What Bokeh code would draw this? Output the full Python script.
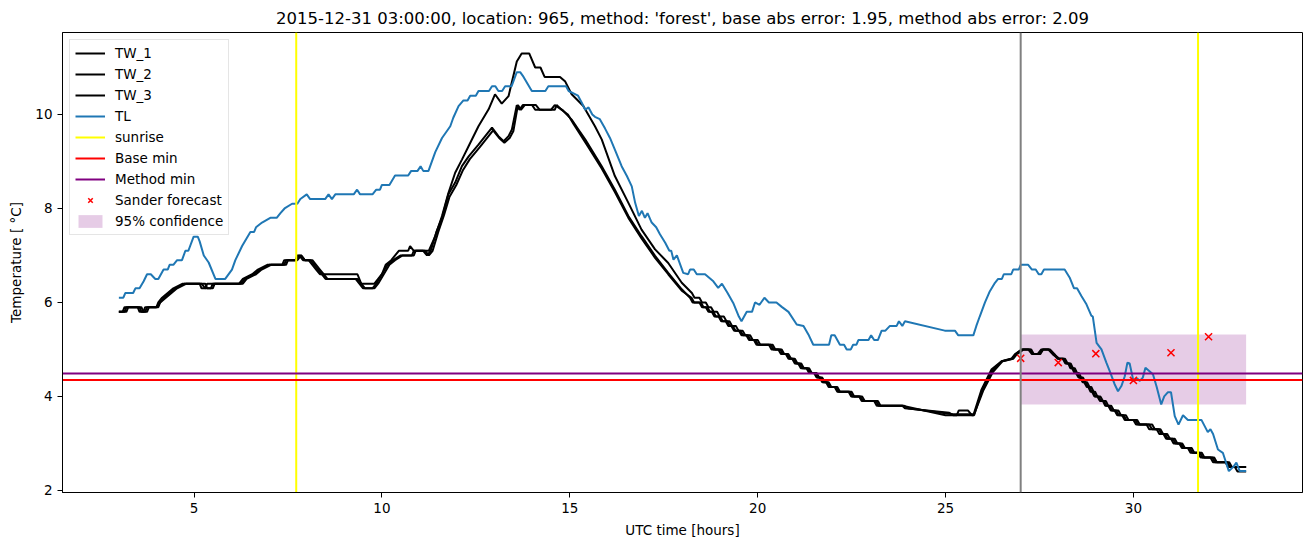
from bokeh.plotting import figure
from bokeh.models import Range1d, Span, Legend, LegendItem, FixedTicker
from bokeh.embed import file_html
from bokeh.resources import INLINE

TITLE = "2015-12-31 03:00:00, location: 965, method: 'forest', base abs error: 1.95, method abs error: 2.09"

tw1 = [(3.0,5.8),(3.15,5.8),(3.2,5.9),(3.5,5.9),(3.55,5.8),(3.65,5.8),(3.7,5.9),(4.0,5.9),(4.05,6.0),(4.15,6.1),(4.3,6.2),(4.45,6.3),(4.7,6.4),(5.15,6.4),(5.2,6.3),(5.3,6.3),(5.35,6.4),(6.2,6.4),(6.3,6.5),(6.55,6.6),(6.7,6.7),(6.95,6.8),(7.35,6.8),(7.4,6.9),(7.7,6.9),(7.8,7.0),(7.9,6.9),(8.05,6.9),(8.15,6.8),(8.25,6.7),(8.35,6.6),(9.35,6.6),(9.45,6.4),(9.8,6.4),(9.9,6.5),(10.0,6.6),(10.1,6.8),(10.25,6.9),(10.45,7.1),(10.7,7.1),(10.75,7.2),(10.85,7.1),(11.25,7.1),(11.42,7.41),(11.6,7.84),(11.77,8.33),(11.95,8.76),(12.13,9.04),(12.31,9.33),(12.57,9.75),(12.84,10.11),(13.01,10.43),(13.19,10.23),(13.37,10.39),(13.59,11.13),(13.72,11.3),(13.92,11.3),(14.08,11.0),(14.22,11.0),(14.33,10.8),(14.74,10.8),(14.88,10.7),(15.05,10.43),(15.19,10.32),(15.36,10.18),(15.67,9.75),(15.85,9.47),(16.2,8.69),(16.56,8.12),(16.91,7.55),(17.27,7.13),(17.62,6.84),(17.98,6.42),
       (18.25,6.2),(18.32,6.1),(18.45,6.1),(18.52,6.0),(18.62,6.0),(18.69,5.9),(18.76,5.9),(18.83,5.8),(18.92,5.8),(18.99,5.7),(19.1,5.7),(19.17,5.6),(19.25,5.6),(19.32,5.5),(19.42,5.5),(19.49,5.4),(19.6,5.4),(19.67,5.3),(19.8,5.3),(19.87,5.2),(20.0,5.2),(20.07,5.1),(20.35,5.1),(20.42,5.0),(20.55,5.0),(20.62,4.9),(20.75,4.9),(20.82,4.8),(20.92,4.8),(20.99,4.7),(21.08,4.7),(21.15,4.6),(21.3,4.6),(21.37,4.5),(21.5,4.5),(21.57,4.4),(21.65,4.4),(21.72,4.3),(21.82,4.3),(21.89,4.2),(22.05,4.2),(22.12,4.1),(22.42,4.1),(22.49,4.0),(22.7,4.0),(22.77,3.9),(23.1,3.9),(23.17,3.8),(23.85,3.8),
       (23.92,3.75),(25.1,3.65),(25.2,3.6),(25.74,3.6),(25.96,4.15),(26.22,4.57),(26.49,4.75),(26.76,4.81),(26.84,4.89),(27.02,5.0),(27.2,5.0),(27.3,4.9),(27.45,4.9),(27.55,5.0),(27.73,5.0),(27.85,4.9),
       (28.0,4.8),(28.15,4.8),(28.22,4.7),(28.3,4.7),(28.35,4.6),(28.4,4.6),(28.46,4.5),(28.5,4.5),(28.57,4.4),(28.61,4.4),(28.68,4.3),(28.72,4.3),(28.79,4.2),(28.83,4.2),(28.89,4.1),(28.93,4.1),(28.99,4.0),(29.07,4.0),(29.14,3.9),(29.22,3.9),(29.28,3.8),(29.36,3.8),(29.43,3.7),(29.54,3.7),(29.61,3.6),(29.74,3.6),(29.81,3.5),(30.05,3.5),(30.12,3.4),(30.42,3.4),(30.5,3.3),(30.68,3.3),(30.75,3.2),(30.84,3.2),(30.91,3.1),(31.05,3.1),(31.12,3.0),(31.26,3.0),(31.33,2.9),(31.5,2.9),(31.57,2.8),(31.77,2.8),(31.84,2.7),(32.1,2.7),(32.17,2.6),(32.5,2.6),(32.57,2.5),(33.0,2.5)]

tw2 = [(3.0,5.8),(3.1,5.8),(3.15,5.9),(3.55,5.9),(3.6,5.8),(3.7,5.8),(3.75,5.9),(4.0,5.9),(4.1,6.0),(4.2,6.1),(4.35,6.2),(4.5,6.3),(4.75,6.4),(5.2,6.4),(5.3,6.3),(5.5,6.3),(5.55,6.4),(6.25,6.4),(6.35,6.5),(6.6,6.6),(6.75,6.7),(7.0,6.8),(7.4,6.8),(7.45,6.9),(7.75,6.9),(7.85,7.0),(7.95,6.9),(8.1,6.9),(8.2,6.8),(8.3,6.7),(8.4,6.6),(8.5,6.5),(9.3,6.5),(9.4,6.4),(9.5,6.3),(9.75,6.3),(9.85,6.4),(10.0,6.6),(10.15,6.8),(10.3,6.9),(10.5,7.0),(10.8,7.0),(10.85,7.1),(11.1,7.1),(11.2,7.0),(11.3,7.1),(11.45,7.5),(11.6,7.8),(11.77,8.3),(11.95,8.55),(12.13,8.9),(12.31,9.11),(12.57,9.36),(12.75,9.54),(12.93,9.72),(13.1,9.54),(13.24,9.43),(13.37,9.54),(13.46,9.68),(13.59,10.2),(13.66,10.1),(13.75,10.2),(14.1,10.2),(14.2,10.1),(14.5,10.1),(14.6,10.2),(14.8,10.1),(15.05,9.89),(15.23,9.68),(15.41,9.47),(15.85,8.9),(16.2,8.40),(16.56,7.84),(16.91,7.41),(17.27,6.99),(17.62,6.63),(17.98,6.28),
       (18.2,6.1),(18.27,6.0),(18.45,6.0),(18.52,5.9),(18.62,5.9),(18.69,5.8),(18.78,5.8),(18.85,5.7),(18.96,5.7),(19.03,5.6),(19.15,5.6),(19.22,5.5),(19.3,5.5),(19.37,5.4),(19.5,5.4),(19.57,5.3),(19.7,5.3),(19.77,5.2),(19.9,5.2),(19.97,5.1),(20.4,5.1),(20.47,5.0),(20.6,5.0),(20.67,4.9),(20.78,4.9),(20.85,4.8),(20.95,4.8),(21.02,4.7),(21.12,4.7),(21.19,4.6),(21.33,4.6),(21.4,4.5),(21.53,4.5),(21.6,4.4),(21.68,4.4),(21.75,4.3),(21.85,4.3),(21.92,4.2),(22.08,4.2),(22.15,4.1),(22.45,4.1),(22.52,4.0),(22.73,4.0),(22.8,3.9),(23.15,3.9),(23.22,3.8),(23.85,3.8),
       (25.0,3.6),(25.3,3.6),(25.35,3.7),(25.6,3.7),(25.7,3.6),(25.76,3.6),(25.98,4.15),(26.24,4.55),(26.5,4.75),(26.78,4.8),(26.86,4.9),(27.05,5.0),(27.25,5.0),(27.32,4.9),(27.5,4.9),(27.58,5.0),(27.75,5.0),(27.88,4.9),
       (28.03,4.8),(28.18,4.8),(28.25,4.7),(28.33,4.7),(28.39,4.6),(28.44,4.6),(28.5,4.5),(28.55,4.5),(28.61,4.4),(28.66,4.4),(28.72,4.3),(28.77,4.3),(28.83,4.2),(28.88,4.2),(28.94,4.1),(28.98,4.1),(29.04,4.0),(29.12,4.0),(29.19,3.9),(29.27,3.9),(29.33,3.8),(29.41,3.8),(29.48,3.7),(29.6,3.7),(29.67,3.6),(29.8,3.6),(29.87,3.5),(30.1,3.5),(30.17,3.4),(30.5,3.4),(30.57,3.3),(30.72,3.3),(30.79,3.2),(30.9,3.2),(30.97,3.1),(31.1,3.1),(31.17,3.0),(31.3,3.0),(31.37,2.9),(31.55,2.9),(31.62,2.8),(31.82,2.8),(31.89,2.7),(32.15,2.7),(32.22,2.6),(32.45,2.6),(32.52,2.5),(32.7,2.5),(32.77,2.4),(33.0,2.4)]

tw3 = [(3.0,5.8),(3.2,5.8),(3.25,5.9),(3.6,5.9),(3.65,5.8),(3.75,5.8),(3.8,5.9),(4.05,5.9),(4.1,6.0),(4.25,6.1),(4.4,6.2),(4.55,6.3),(4.8,6.4),(5.3,6.4),(5.35,6.3),(5.45,6.3),(5.5,6.4),(6.3,6.4),(6.4,6.5),(6.65,6.6),(6.8,6.7),(7.05,6.8),(7.45,6.8),(7.5,6.9),(7.7,6.9),(7.75,7.0),(7.85,7.0),(7.95,6.9),(8.15,6.9),(8.25,6.8),(8.35,6.7),(8.45,6.6),(8.55,6.5),(9.35,6.5),(9.45,6.4),(9.55,6.3),(9.8,6.3),(9.9,6.4),(10.05,6.6),(10.2,6.8),(10.35,6.9),(10.55,7.0),(10.85,7.0),(10.9,7.1),(11.15,7.1),(11.25,7.0),(11.35,7.1),(11.5,7.5),(11.65,7.85),(11.8,8.25),(11.98,8.5),(12.16,8.82),(12.34,9.05),(12.6,9.3),(12.78,9.48),(12.96,9.66),(13.12,9.5),(13.26,9.4),(13.4,9.5),(13.5,9.65),(13.62,10.2),(13.7,10.1),(13.8,10.2),(14.0,10.2),(14.08,10.1),(14.6,10.1),(14.65,10.2),(14.78,10.1),(14.95,10.0),(15.1,9.8),(15.3,9.55),(15.5,9.3),(15.85,8.85),(16.2,8.35),(16.56,7.8),(16.91,7.36),(17.27,6.95),(17.62,6.6),(17.98,6.25),
       (18.24,6.1),(18.31,6.0),(18.49,6.0),(18.56,5.9),(18.66,5.9),(18.73,5.8),(18.82,5.8),(18.89,5.7),(19.0,5.7),(19.07,5.6),(19.19,5.6),(19.26,5.5),(19.34,5.5),(19.41,5.4),(19.54,5.4),(19.61,5.3),(19.74,5.3),(19.81,5.2),(19.94,5.2),(20.01,5.1),(20.3,5.1),(20.37,5.0),(20.64,5.0),(20.71,4.9),(20.82,4.9),(20.89,4.8),(20.99,4.8),(21.06,4.7),(21.16,4.7),(21.23,4.6),(21.37,4.6),(21.44,4.5),(21.57,4.5),(21.64,4.4),(21.72,4.4),(21.79,4.3),(21.89,4.3),(21.96,4.2),(22.12,4.2),(22.19,4.1),(22.5,4.1),(22.57,4.0),(22.78,4.0),(22.85,3.9),(23.2,3.9),(23.27,3.8),(23.9,3.8),
       (24.0,3.75),(25.2,3.62),(25.76,3.62),(26.0,4.12),(26.26,4.52),(26.52,4.75),(26.8,4.8),(26.9,4.9),(27.08,5.0),(27.28,5.0),(27.35,4.9),(27.52,4.9),(27.6,5.0),(27.78,5.0),(27.9,4.9),
       (27.98,4.8),(28.12,4.8),(28.19,4.7),(28.27,4.7),(28.32,4.6),(28.37,4.6),(28.43,4.5),(28.47,4.5),(28.54,4.4),(28.58,4.4),(28.65,4.3),(28.69,4.3),(28.76,4.2),(28.8,4.2),(28.86,4.1),(28.9,4.1),(28.96,4.0),(29.04,4.0),(29.11,3.9),(29.19,3.9),(29.25,3.8),(29.33,3.8),(29.4,3.7),(29.5,3.7),(29.57,3.6),(29.7,3.6),(29.77,3.5),(30.0,3.5),(30.07,3.4),(30.35,3.4),(30.42,3.3),(30.62,3.3),(30.69,3.2),(30.8,3.2),(30.87,3.1),(31.0,3.1),(31.07,3.0),(31.22,3.0),(31.29,2.9),(31.45,2.9),(31.52,2.8),(31.72,2.8),(31.79,2.7),(32.05,2.7),(32.12,2.6),(32.55,2.6),(32.62,2.5),(33.0,2.5)]

tl = [(3.0,6.1),(3.12,6.1),(3.17,6.2),(3.38,6.2),(3.44,6.3),(3.55,6.3),(3.66,6.45),(3.75,6.6),(3.85,6.6),(3.97,6.5),(4.05,6.5),(4.19,6.7),(4.3,6.7),(4.35,6.8),(4.45,6.8),(4.55,6.9),(4.68,6.9),(4.77,7.1),(4.85,7.1),(4.99,7.4),(5.1,7.4),(5.15,7.3),(5.26,7.0),(5.39,6.85),(5.57,6.5),(5.83,6.5),(6.01,6.7),(6.1,6.9),(6.28,7.2),(6.5,7.5),(6.6,7.5),(6.65,7.6),(6.81,7.7),(7.03,7.8),(7.2,7.8),(7.3,7.9),(7.41,8.0),(7.61,8.1),(7.75,8.1),(7.83,8.2),(8.0,8.3),(8.09,8.2),(8.49,8.2),(8.58,8.3),(8.67,8.2),(8.76,8.3),(9.25,8.3),(9.34,8.4),(9.42,8.3),(9.75,8.3),(9.85,8.4),(9.95,8.4),(10.0,8.5),(10.2,8.5),(10.35,8.7),(10.7,8.7),(10.78,8.8),(10.95,8.8),(11.03,8.9),(11.1,8.8),(11.24,8.8),(11.42,9.2),(11.6,9.5),(11.82,9.75),(11.9,9.93),(12.04,10.18),(12.17,10.3),(12.28,10.3),(12.35,10.4),(12.5,10.4),(12.57,10.5),(12.85,10.5),(12.93,10.6),(13.02,10.6),(13.1,10.5),(13.2,10.5),(13.28,10.6),(13.45,10.6),(13.59,10.9),(13.68,10.9),(13.77,10.8),(13.99,10.5),(14.35,10.5),(14.43,10.6),(14.9,10.6),(14.97,10.5),(15.1,10.45),(15.22,10.4),(15.32,10.25),(15.41,10.1),(15.5,10.15),(15.6,10.0),(15.67,9.95),(15.8,9.9),(15.94,9.7),(16.07,9.5),(16.2,9.25),(16.38,8.9),(16.52,8.69),(16.65,8.47),(16.74,8.12),(16.84,7.84),(16.92,7.95),(17.0,7.8),(17.07,7.9),(17.18,7.7),(17.3,7.6),(17.4,7.45),(17.54,7.27),(17.65,7.1),(17.7,7.1),(17.76,6.91),(17.85,7.0),(18.02,6.63),(18.15,6.6),(18.2,6.7),(18.3,6.7),(18.38,6.6),(18.6,6.6),(18.82,6.45),(18.95,6.31),(19.05,6.4),(19.2,6.2),(19.35,5.99),(19.5,5.7),(19.57,5.6),(19.71,5.8),(19.85,5.8),(19.93,6.0),(20.05,5.95),(20.18,6.1),(20.3,6.0),(20.5,6.0),(20.65,5.9),(20.82,5.8),(21.04,5.53),(21.22,5.5),(21.35,5.32),(21.48,5.1),(21.9,5.1),(21.96,5.3),(22.05,5.3),(22.19,5.1),(22.3,5.1),(22.37,5.0),(22.48,5.0),(22.54,5.1),(22.63,5.1),(22.68,5.2),(22.95,5.2),(23.02,5.3),(23.1,5.2),(23.2,5.2),(23.3,5.4),(23.4,5.4),(23.52,5.5),(23.7,5.5),(23.76,5.6),(23.85,5.5),(23.92,5.6),(24.98,5.4),(25.25,5.4),(25.34,5.3),(25.74,5.3),(25.82,5.5),(25.91,5.7),(26.05,6.0),(26.18,6.24),(26.3,6.4),(26.4,6.5),(26.5,6.5),(26.55,6.6),(26.75,6.6),(26.8,6.7),(26.95,6.7),(27.0,6.8),(27.2,6.8),(27.3,6.7),(27.4,6.7),(27.48,6.6),(27.55,6.6),(27.62,6.7),(28.17,6.7),(28.31,6.52),(28.42,6.3),(28.5,6.3),(28.62,6.13),(28.75,5.96),(28.88,5.72),(28.92,5.7),(29.02,5.14),(29.15,5.0),(29.28,4.72),(29.37,4.54),(29.5,4.26),(29.59,4.11),(29.68,4.22),(29.77,4.43),(29.84,4.72),(29.9,4.7),(30.0,4.33),(30.1,4.38),(30.17,4.33),(30.25,4.4),(30.32,4.61),(30.52,4.47),(30.62,4.2),(30.74,3.83),(30.82,4.0),(30.92,4.09),(31.0,4.09),(31.1,3.58),(31.2,3.4),(31.32,3.6),(31.45,3.5),(31.81,3.5),(31.98,3.24),(32.05,3.3),(32.12,3.2),(32.25,2.87),(32.38,2.8),(32.54,2.41),(32.66,2.5),(32.74,2.59),(32.83,2.41),(33.0,2.41)]

sunrise = [7.72, 31.72]
forecast_start = 27.0
base_min = 4.35
method_min = 4.49
sander_h = [27.0, 28.0, 29.0, 30.0, 31.0, 32.0]
sander_t = [4.81, 4.72, 4.91, 4.34, 4.93, 5.27]
conf_h = [27.0, 33.0]
conf_lo = [3.83, 3.83]
conf_hi = [5.32, 5.32]

def xs(pts):
    return [a for a, b in pts]

def ys(pts):
    return [b for a, b in pts]

all_x = xs(tw1) + xs(tw2) + xs(tw3) + xs(tl) + sander_h + conf_h
all_y = ys(tw1) + ys(tw2) + ys(tw3) + ys(tl) + sander_t + conf_lo + conf_hi
xpad = 0.05 * (max(all_x) - min(all_x))
ypad = 0.05 * (max(all_y) - min(all_y))
x_lo, x_hi = min(all_x) - xpad, max(all_x) + xpad
y_lo, y_hi = min(all_y) - ypad, max(all_y) + ypad

FONT = "DejaVu Sans"
p = figure(width=1310, height=547, output_backend="svg", toolbar_location=None,
           x_range=Range1d(x_lo, x_hi), y_range=Range1d(y_lo, y_hi),
           min_border_left=62, min_border_right=8, min_border_top=32, min_border_bottom=55,
           title=TITLE)
p.title.align = "center"
p.title.text_font = FONT
p.title.text_font_size = "16.5px"
p.title.text_font_style = "normal"
p.title.text_color = "black"
p.xgrid.visible = False
p.ygrid.visible = False
p.outline_line_color = "black"
p.outline_line_alpha = 1
p.outline_line_width = 1
p.background_fill_color = "white"
p.border_fill_color = "white"

for ax in (p.xaxis[0], p.yaxis[0]):
    ax.axis_line_color = "black"
    ax.major_tick_line_color = "black"
    ax.major_tick_out = 5
    ax.major_tick_in = 0
    ax.minor_tick_line_color = None
    ax.major_label_text_font = FONT
    ax.major_label_text_font_size = "13.5px"
    ax.major_label_text_color = "black"
    ax.axis_label_text_font = FONT
    ax.axis_label_text_font_size = "13.5px"
    ax.axis_label_text_font_style = "normal"
    ax.axis_label_text_color = "black"
p.xaxis.ticker = FixedTicker(ticks=[5, 10, 15, 20, 25, 30])
p.yaxis.ticker = FixedTicker(ticks=[2, 4, 6, 8, 10])
p.xaxis.axis_label = "UTC time [hours]"
p.yaxis.axis_label = "Temperature [ °C]"
p.xaxis.axis_label_standoff = 6
p.yaxis.axis_label_standoff = 8

r_conf = p.varea(x=conf_h, y1=conf_lo, y2=conf_hi, fill_color="purple", fill_alpha=0.2)
r1 = p.line(xs(tw1), ys(tw1), line_color="black", line_width=2)
r2 = p.line(xs(tw2), ys(tw2), line_color="black", line_width=2)
r3 = p.line(xs(tw3), ys(tw3), line_color="black", line_width=2)
rtl = p.line(xs(tl), ys(tl), line_color="#1f77b4", line_width=2)

r_sun = p.segment(x0=sunrise, x1=sunrise, y0=[y_lo] * len(sunrise), y1=[y_hi] * len(sunrise),
                  line_color="yellow", line_width=2)
r_base = p.segment(x0=[x_lo], x1=[x_hi], y0=[base_min], y1=[base_min], line_color="red", line_width=2)
r_meth = p.segment(x0=[x_lo], x1=[x_hi], y0=[method_min], y1=[method_min], line_color="purple", line_width=2)
r_sander = p.scatter(sander_h, sander_t, marker="x", size=10, line_color="red", line_width=1.5)
p.add_layout(Span(location=forecast_start, dimension="height", line_color="gray", line_width=2))

legend = Legend(items=[
    LegendItem(label="TW_1", renderers=[r1]),
    LegendItem(label="TW_2", renderers=[r2]),
    LegendItem(label="TW_3", renderers=[r3]),
    LegendItem(label="TL", renderers=[rtl]),
    LegendItem(label="sunrise", renderers=[r_sun]),
    LegendItem(label="Base min", renderers=[r_base]),
    LegendItem(label="Method min", renderers=[r_meth]),
    LegendItem(label="Sander forecast", renderers=[r_sander]),
    LegendItem(label="95% confidence", renderers=[r_conf]),
], location="top_left")
legend.label_text_font = FONT
legend.label_text_font_size = "13.5px"
legend.label_text_color = "black"
legend.glyph_width = 30
legend.glyph_height = 16
legend.label_height = 16
legend.spacing = 5
legend.padding = 5
legend.margin = 7
legend.label_standoff = 10
legend.border_line_color = "#cccccc"
legend.border_line_width = 1
legend.background_fill_alpha = 0.8
p.add_layout(legend, "center")

open("out.html", "w").write(file_html(p, INLINE))
